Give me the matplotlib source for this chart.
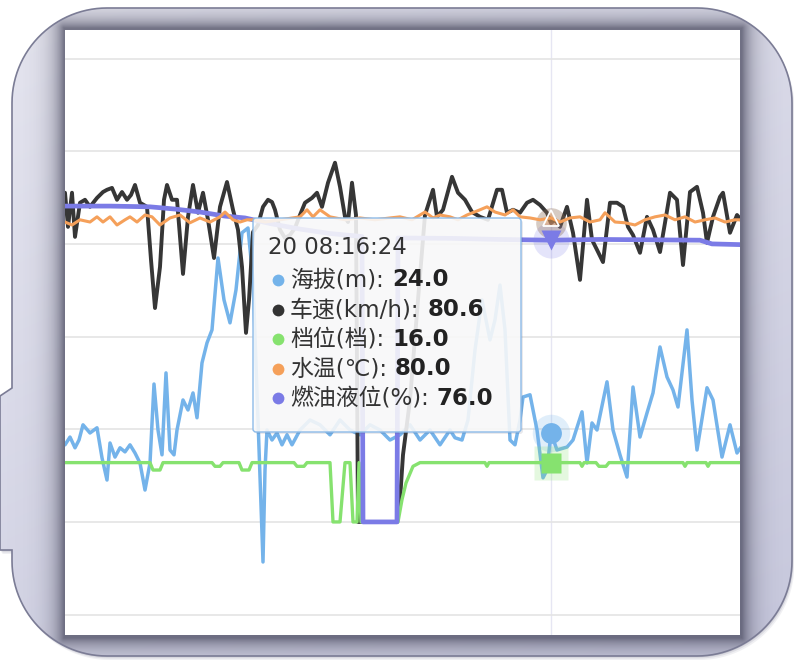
import numpy as np
import matplotlib
matplotlib.use('Agg')
import matplotlib.pyplot as plt
from matplotlib.patches import PathPatch, FancyBboxPatch
from matplotlib.path import Path
from matplotlib.transforms import Affine2D

plt.rcParams['font.family'] = ['DejaVu Sans', 'Noto Sans CJK SC']

# ---------------- data (t = seconds since 08:08:18) ----------------
series_names = ['海拔(m)', '车速(km/h)', '档位(档)', '水温(℃)', '燃油液位(%)']
tooltip_time = '20 08:16:24'
pointer_t = 486

alt_t = [0, 5, 10, 14, 18, 25, 32, 37, 42, 45, 50, 55, 60, 65, 70, 75, 80, 85, 89, 93,
         97, 101, 105, 109, 112, 118, 123, 128, 132, 137, 142, 147, 153, 159, 165, 171, 177, 183, 188, 193,
         198, 200, 202, 207, 212, 217, 222, 227, 235, 245, 255, 265, 275, 285, 295, 305, 315, 325, 335, 345,
         355, 365, 375, 385, 390, 397, 403, 410, 417, 425, 430, 435, 440, 445, 450, 455, 458, 465, 472, 478,
         482, 486, 492, 502, 508, 517, 522, 527, 532, 542, 548, 555, 562, 568, 575, 582, 588, 595, 602, 608,
         613, 622, 627, 632, 642, 648, 657, 665, 672, 676]
altitude = [20.8, 22.9, 20.0, 22.1, 26.2, 24.0, 25.4, 17.3, 11.3, 21.3, 17.5, 20.0, 18.9, 20.8, 18.6, 15.9, 8.6, 15.9, 37.2, 24.8,
            18.1, 40.2, 19.4, 18.1, 24.8, 32.9, 30.2, 34.8, 28.1, 42.9, 48.3, 51.8, 71.2, 59.9, 53.7, 62.6, 78.0, 79.3, 65.3, 27.5,
            -10.8, 14.0, 24.8, 22.1, 24.0, 20.8, 23.5, 20.8, 24.8, 27.5, 26.2, 23.5, 27.5, 24.8, 23.5, 26.2, 24.8, 22.1, 23.5, 26.2,
            22.1, 24.8, 20.8, 24.8, 22.7, 22.1, 27.5, 46.4, 59.9, 49.1, 54.5, 63.9, 51.8, 22.1, 20.8, 27.5, 33.7, 34.3, 24.8, 11.9,
            14.0, 24.0, 19.4, 20.2, 22.1, 29.7, 15.9, 26.7, 24.8, 37.8, 24.8, 18.1, 12.1, 36.4, 22.9, 29.4, 34.8, 47.2, 39.1, 35.6,
            31.0, 51.8, 32.9, 19.4, 36.2, 32.9, 17.5, 26.2, 18.6, 20.2]

speed_t = [0, 3, 7, 10, 15, 20, 25, 32, 38, 42, 47, 52, 57, 62, 66, 70, 75, 82, 86, 90,
           95, 99, 102, 107, 112, 118, 123, 128, 133, 138, 143, 149, 155, 162, 168, 173, 177, 181, 184, 188,
           193, 198, 203, 207, 210, 215, 220, 225, 230, 235, 240, 247, 252, 257, 263, 270, 275, 280, 283, 287,
           291, 293, 297, 332, 335, 338, 345, 353, 360, 368, 372, 378, 387, 393, 400, 407, 415, 423, 432, 437,
           442, 448, 455, 462, 468, 475, 482, 486, 490, 495, 502, 508, 515, 522, 527, 532, 538, 545, 552, 558,
           563, 568, 575, 582, 588, 595, 600, 605, 612, 618, 625, 632, 638, 642, 648, 655, 658, 665, 672, 676]
speed = [88.8, 79.6, 88.8, 76.9, 86.1, 86.9, 85.0, 87.4, 89.0, 89.6, 90.1, 86.9, 89.0, 86.9, 88.2, 90.9, 86.1, 85.0, 70.7, 57.7,
         68.8, 86.9, 90.9, 86.9, 86.9, 66.9, 82.3, 90.9, 83.4, 88.8, 81.5, 71.2, 85.0, 91.7, 84.2, 78.8, 68.8, 51.0, 59.9, 78.2,
         80.1, 85.0, 86.9, 86.3, 84.2, 78.8, 76.6, 77.4, 79.3, 82.8, 86.1, 87.4, 88.8, 85.0, 91.5, 96.9, 90.4, 82.3, 80.9, 91.5,
         82.8, 0.0, 0.0, 0.0, 5.9, 18.1, 32.9, 59.9, 82.8, 89.6, 82.3, 84.2, 93.1, 88.8, 86.9, 83.6, 82.3, 81.5, 89.6, 89.6,
         83.4, 84.2, 83.4, 86.1, 86.9, 85.5, 83.4, 80.6, 81.5, 79.6, 85.0, 78.0, 65.3, 86.9, 76.1, 73.4, 70.1, 86.1, 86.1, 85.0,
         79.6, 77.4, 72.6, 82.3, 78.8, 72.8, 80.7, 88.8, 86.9, 69.3, 89.0, 90.4, 83.4, 75.3, 82.3, 87.7, 88.8, 78.0, 82.8, 81.5]

gear_t = [0, 85, 88, 95, 98, 147, 150, 155, 158, 174, 177, 184, 187, 229, 232, 239, 242, 265, 268, 275,
          280, 285, 288, 292, 294, 296, 333, 337, 341, 348, 355, 420, 422, 424, 480, 486, 515, 517, 519, 531,
          534, 541, 544, 618, 620, 622, 641, 643, 645, 676]
gear = [16, 16, 14, 14, 16, 16, 15, 15, 16, 16, 14, 14, 16, 16, 15, 15, 16, 16, 0, 0,
        16, 16, 0, 0, 16, 0, 0, 6, 10.5, 15, 16, 16, 15, 16, 16, 16, 16, 15, 16, 16,
        15, 15, 16, 16, 15, 16, 16, 15, 16, 16]

temp_t = [0, 7, 15, 25, 32, 38, 45, 52, 60, 65, 72, 80, 87, 95, 105, 115, 125, 135, 145, 155,
          160, 168, 175, 182, 190, 200, 215, 235, 242, 248, 255, 265, 280, 295, 310, 325, 335, 347, 360, 368,
          375, 385, 393, 402, 415, 422, 430, 440, 448, 455, 465, 475, 486, 495, 505, 515, 525, 535, 540, 550,
          560, 570, 580, 590, 600, 610, 620, 630, 640, 650, 660, 670, 676]
water_temp = [78.9, 78.1, 79.5, 78.9, 80.3, 78.9, 80.3, 78.1, 79.5, 80.3, 78.9, 80.8, 80.3, 78.1, 80.0, 80.8, 78.7, 80.0, 78.9, 80.3,
              81.6, 79.5, 78.9, 79.5, 79.5, 78.9, 79.5, 80.3, 82.2, 80.3, 82.2, 80.3, 79.5, 80.0, 79.5, 80.0, 80.3, 79.5, 81.6, 80.0,
              80.8, 80.3, 79.5, 80.8, 82.2, 83.0, 81.6, 80.8, 82.2, 80.3, 80.0, 79.5, 80.0, 78.9, 80.0, 80.3, 78.9, 79.5, 81.4, 78.9,
              78.7, 78.1, 79.5, 80.3, 80.8, 79.5, 80.3, 78.9, 79.5, 80.0, 78.9, 79.5, 79.5]

fuel_t = [0, 45, 85, 110, 135, 160, 180, 190, 205, 235, 265, 297, 298, 332, 333, 385, 435, 486, 535, 635, 647, 676]
fuel = [85.2, 85.2, 85.0, 84.4, 83.6, 82.5, 82.0, 81.4, 80.5, 79.0, 77.8, 77.0, 0, 0, 76.6, 76.5, 76.2, 76.0, 76.2, 76.0, 75.0, 74.8]

c_alt, c_speed, c_gear, c_temp, c_fuel = '#74b3ea', '#363636', '#86e26f', '#f5a05a', '#7b7be6'

# ---------------- figure / decoration ----------------
W, H = 794, 661
fig = plt.figure(figsize=(W / 100, H / 100), dpi=100, facecolor='white')

bg = fig.add_axes([0, 0, 1, 1], zorder=0)
bg.set_xlim(0, W)
bg.set_ylim(H, 0)
bg.axis('off')


def bubble_path(L, T, R, B, r, n=30):
    pts = []

    def arc(cx, cy, a0, a1):
        a = np.radians(np.linspace(a0, a1, n))
        return list(zip(cx + r * np.cos(a), cy + r * np.sin(a)))
    pts += arc(L + r, T + r, 180, 270)
    pts += arc(R - r, T + r, 270, 360)
    pts += arc(R - r, B - r, 0, 90)
    pts += arc(L + r, B - r, 90, 180)
    pts += [(L, 550), (0, 550), (0, 396), (L, 388)]
    pts.append(pts[0])
    return Path(pts, closed=True)


bpath = bubble_path(12, 8, 792, 656, 95)
for k, a in [(4, 0.10), (2.5, 0.15), (1.2, 0.2)]:
    sp = PathPatch(bpath, transform=Affine2D().translate(k * 0.6, k) + bg.transData,
                   fc=(0.45, 0.45, 0.55, a), ec='none', zorder=0)
    bg.add_patch(sp)
bpatch = PathPatch(bpath, fc='#dedfeb', ec='none', zorder=1)
bg.add_patch(bpatch)

yy, xx = np.mgrid[0:H, 0:W] + 0.5
g = np.clip(xx / W * 0.35 + yy / H * 0.65, 0, 1)
c0 = np.array([231, 231, 241]) / 255
c1 = np.array([200, 201, 222]) / 255
grad = c0 + (c1 - c0) * g[..., None]
im = bg.imshow(grad, extent=(0, W, H, 0), zorder=2, interpolation='bilinear')
im.set_clip_path(bpatch)

dx = np.maximum(np.maximum(64 - xx, xx - 742), 0)
dy = np.maximum(np.maximum(28 - yy, yy - 638), 0)
d = np.hypot(dx, dy)
sh = np.zeros((H, W, 4))
sh[..., :3] = np.array([62, 62, 84]) / 255
sh[..., 3] = 0.68 * np.exp(-d / 11.0)
im2 = bg.imshow(sh, extent=(0, W, H, 0), zorder=3, interpolation='bilinear')
im2.set_clip_path(bpatch)

bg.add_patch(PathPatch(bpath, fc='none', ec='#7b7c95', lw=1.2, zorder=4))

# ---------------- main chart ----------------
ax = fig.add_axes([65 / W, 1 - 635 / H, 675 / W, 605 / H], zorder=1)
ax2 = ax.twinx()
ax.set_facecolor('white')
ax.set_xlim(0, 675)
ax.set_ylim(-30.5, 132.7)
ax.set_yticks([-25, 0, 25, 50, 75, 100, 125])
ax.set_xticks([])
ax.tick_params(left=False, right=False, labelleft=False, labelright=False, length=0)
ax.grid(axis='y', color='#e4e4e4', lw=1.2)
for s in ax.spines.values():
    s.set_visible(False)

ax.axvline(pointer_t, color='#e6e6f3', lw=1.0, zorder=1)
kw = dict(solid_joinstyle='round', solid_capstyle='round')
ax.plot(alt_t, altitude, color=c_alt, lw=2.5, zorder=2, **kw)
ax.plot(speed_t, speed, color=c_speed, lw=2.8, zorder=3, **kw)
ax.plot(gear_t, gear, color=c_gear, lw=2.4, zorder=4, **kw)
ax.plot(fuel_t, fuel, color=c_fuel, lw=3.4, zorder=5, **kw)

ax2.set_zorder(2)
ax2.set_ylim(-30.5 - 2.0, 132.7 - 2.0)
ax2.axis('off')
ax2.plot(temp_t, water_temp, color=c_temp, lw=2.2, **kw)

v_alt = np.interp(pointer_t, alt_t, altitude)
v_speed = np.interp(pointer_t, speed_t, speed)
v_gear = np.interp(pointer_t, gear_t, gear)
v_temp = np.interp(pointer_t, temp_t, water_temp)
v_fuel = np.interp(pointer_t, fuel_t, fuel)

ax.plot(pointer_t, v_alt, 'o', ms=27, color=c_alt, alpha=0.22, mec='none', zorder=8)
ax.plot(pointer_t, v_alt, 'o', ms=15, color=c_alt, mec='none', zorder=9)
ax.plot(pointer_t, v_gear, 's', ms=25, color=c_gear, alpha=0.22, mec='none', zorder=8)
ax.plot(pointer_t, v_gear, 's', ms=14, color=c_gear, mec='none', zorder=9)
ax.plot(pointer_t, v_fuel, 'o', ms=26, color=c_fuel, alpha=0.2, mec='none', zorder=8)
ax.plot(pointer_t, v_fuel, 'v', ms=15, color=c_fuel, mec='none', zorder=9)
ax.plot(pointer_t, v_speed, 'o', ms=22, color='#8a6a55', alpha=0.35, mec='none', zorder=8)
ax2.plot(pointer_t, v_temp, '^', ms=11, mfc=(0.96, 0.63, 0.35, 0.4), mec='white', mew=1.3, zorder=9)

# ---------------- tooltip ----------------
ov = fig.add_axes([0, 0, 1, 1], zorder=3)
ov.set_xlim(0, W)
ov.set_ylim(H, 0)
ov.axis('off')
ov.patch.set_visible(False)

ov.add_patch(FancyBboxPatch((255, 220), 268, 214, boxstyle='round,pad=0,rounding_size=3',
                            fc=(0.3, 0.3, 0.4, 0.12), ec='none'))
ov.add_patch(FancyBboxPatch((253, 218), 268, 214, boxstyle='round,pad=0,rounding_size=3',
                            fc=(0.985, 0.985, 0.985, 0.88), ec='#8dbbe9', lw=1.0))

fs = 16.5
ov.text(268, 248, tooltip_time, fontsize=fs, color='#333333', va='center', ha='left')
values = [v_alt, v_speed, v_gear, v_temp, v_fuel]
colors = [c_alt, '#333333', c_gear, c_temp, c_fuel]
labels = []
for i, (nm, c) in enumerate(zip(series_names, colors)):
    y = 280 + 29.6 * i
    ov.plot(278, y, 'o', ms=8.5, color=c, mec='none')
    labels.append(ov.text(290, y, nm + ':', fontsize=fs, color='#333333', va='center', ha='left'))

fig.canvas.draw()
rend = fig.canvas.get_renderer()
inv = ov.transData.inverted()
for i, (t, v) in enumerate(zip(labels, values)):
    bb = t.get_window_extent(rend)
    xe = inv.transform((bb.x1, bb.y0))[0]
    y = 280 + 29.6 * i
    ov.text(xe + 8, y, f'{v:.1f}', fontsize=fs, color='#222222', fontweight='bold', va='center', ha='left')

fig.savefig('out.png', dpi=100, facecolor='white')
